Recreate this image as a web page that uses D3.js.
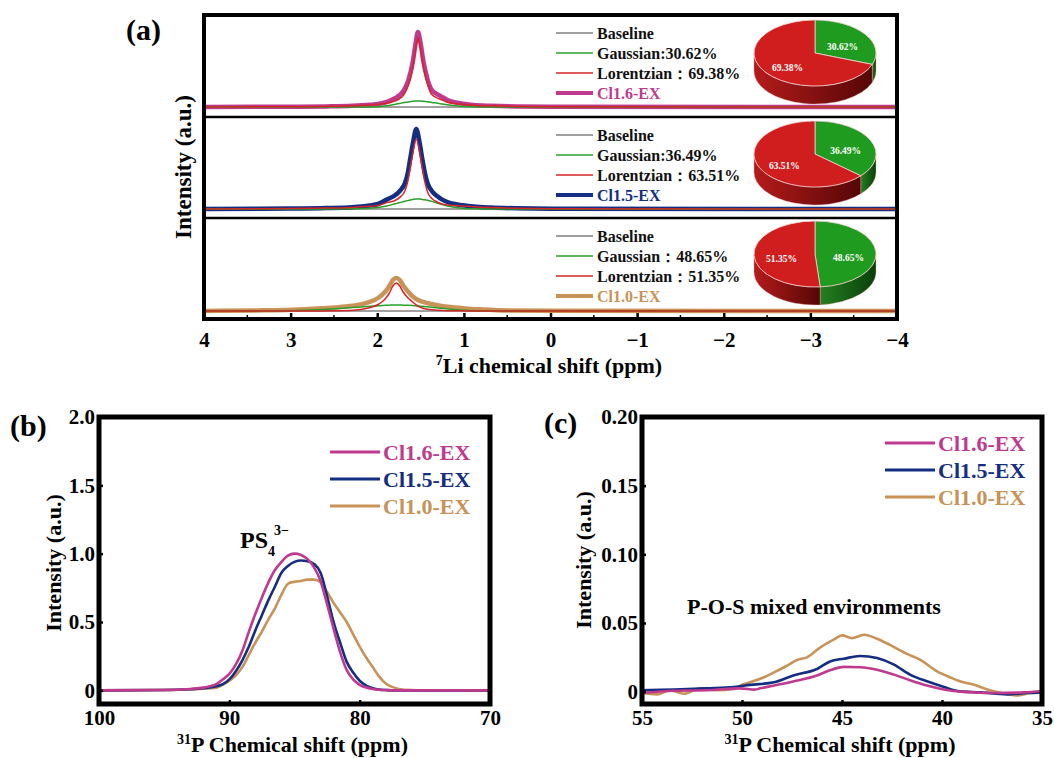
<!DOCTYPE html>
<html>
<head>
<meta charset="utf-8">
<style>
  body { margin: 0; background: #fff; }
</style>
</head>
<body>
<div id="container"></div>
<script src="https://cdn.jsdelivr.net/npm/d3@7"></script>
<script>
// ---------- panel (a): 7Li fits ----------
const liTicks = [4, 3, 2, 1, 0, -1, -2, -3, -4];
const liMinorTicks = [3.5, 2.5, 1.5, 0.5, -0.5, -1.5, -2.5, -3.5];
const samplesA = ["Cl1.6-EX", "Cl1.5-EX", "Cl1.0-EX"];
const gaussianPct = [30.62, 36.49, 48.65];
const lorentzianPct = [69.38, 63.51, 51.35];
const gaussianSep = [":", ":", "："];

const baselinePpm = [4, -4];
const baselineVal = [0, 0];

const ppmCl16 = [4, 2.99, 2.59, 2.29, 2.09, 1.99, 1.89, 1.79, 1.74, 1.69, 1.64, 1.59, 1.56, 1.53, 1.50, 1.47, 1.42, 1.37, 1.29, 1.25, 1.19, 1.09, 0.99, 0.89, 0.69, 0.39, -0.01, -4];
const totalCl16 = [0, 0.3, 0.6, 1.2, 2.2, 3, 5, 9, 12, 17, 27, 45, 62, 75, 64, 47, 28, 17, 12, 10, 7, 4.5, 3, 2, 1.2, 0.5, 0.2, 0];
const gaussCl16 = [0, 0, 0, 0, 0.1, 0.3, 1.2, 2.8, 3.6, 4.4, 5.1, 5.7, 5.9, 6, 5.9, 5.8, 5.3, 4.6, 3.6, 3, 2.3, 1.2, 0.5, 0.15, 0, 0, 0, 0];
const lorentzCl16 = [0, 0.3, 0.6, 1.2, 2.1, 2.7, 3.8, 6.2, 8.4, 12.6, 21.9, 39.3, 56.1, 69, 58.1, 41.2, 22.7, 12.4, 8.4, 7, 4.7, 3.3, 2.5, 1.85, 1.2, 0.5, 0.2, 0];

const ppmCl15 = [4, 2.99, 2.59, 2.29, 2.09, 1.99, 1.89, 1.79, 1.74, 1.68, 1.65, 1.62, 1.59, 1.55, 1.51, 1.48, 1.45, 1.42, 1.37, 1.31, 1.25, 1.19, 1.09, 0.99, 0.89, 0.69, 0.39, -0.01, -4];
const totalCl15 = [0, 0.4, 0.9, 1.8, 3.5, 5, 9.4, 14, 18, 26, 35, 50, 65, 80, 66, 50, 36, 26, 18, 13, 9.4, 7, 4.8, 3.4, 2.5, 1.5, 0.7, 0.3, 0];
const gaussCl15 = [0, 0, 0, 0.2, 0.8, 1.5, 3, 5.3, 6.4, 7.7, 8.4, 9.1, 9.6, 10, 9.9, 9.6, 9.2, 8.7, 7.6, 6, 4.4, 3, 1.4, 0.5, 0.15, 0, 0, 0, 0];
const lorentzCl15 = [0, 0.4, 0.9, 1.6, 2.7, 3.5, 6.4, 8.7, 11.6, 18.3, 26.6, 40.9, 55.4, 70, 56.1, 40.4, 26.8, 17.3, 10.4, 7, 5, 4, 3.4, 2.9, 2.35, 1.5, 0.7, 0.3, 0];

const ppmCl10 = [4, 3.39, 2.99, 2.69, 2.49, 2.29, 2.19, 2.08, 1.99, 1.94, 1.9, 1.86, 1.82, 1.78, 1.74, 1.7, 1.65, 1.59, 1.54, 1.48, 1.39, 1.29, 1.19, 0.99, 0.79, 0.49, -0.01, -4];
const totalCl10 = [0, 0.6, 1.3, 2.5, 3.6, 5.2, 6.6, 9.4, 13, 16.5, 20, 25, 31, 33, 31, 25.5, 20, 14.5, 11.5, 9.4, 7.2, 5.5, 4.2, 2.6, 1.6, 0.6, 0.2, 0];
const gaussCl10 = [0, 0, 0.3, 1.2, 2.2, 3.4, 4, 4.7, 5.2, 5.5, 5.7, 5.85, 5.95, 6, 5.95, 5.85, 5.7, 5.4, 5.1, 4.7, 3.9, 3, 2.1, 0.8, 0.2, 0, 0, 0];
const lorentzCl10 = [0, 0, 0, 0.1, 0.3, 0.8, 1.5, 3.5, 6.5, 9.5, 13, 18, 25, 28, 25, 19, 13.5, 9, 5.5, 3, 1.4, 0.7, 0.3, 0.1, 0, 0, 0, 0];

// ---------- panel (b): 31P, PS4 region ----------
const pTicksB = [100, 90, 80, 70];
const yTicksB = [0, 0.5, 1.0, 1.5, 2.0];
const ppmB = [100, 95, 93, 92, 91, 90.5, 90, 89.5, 89, 88.5, 88, 87.5, 87, 86.5, 86, 85.5, 85, 84.5, 84, 83.5, 83, 82.5, 82, 81.5, 81, 80.5, 80, 79.5, 79, 78.5, 78, 77.5, 77, 76, 75, 70];
const intCl16B = [0, 0.002, 0.01, 0.02, 0.045, 0.08, 0.12, 0.19, 0.29, 0.43, 0.56, 0.68, 0.79, 0.88, 0.94, 0.985, 1.0, 0.99, 0.96, 0.9, 0.8, 0.63, 0.45, 0.28, 0.15, 0.08, 0.04, 0.02, 0.01, 0.004, 0.002, 0, 0, 0, 0, 0];
const intCl15B = [0, 0.002, 0.008, 0.015, 0.03, 0.045, 0.08, 0.14, 0.22, 0.32, 0.44, 0.55, 0.66, 0.76, 0.86, 0.91, 0.94, 0.95, 0.945, 0.925, 0.86, 0.69, 0.5, 0.35, 0.21, 0.13, 0.07, 0.035, 0.015, 0.005, 0.002, 0, 0, 0, 0, 0];
const intCl10B = [0, 0.002, 0.008, 0.012, 0.02, 0.04, 0.07, 0.11, 0.17, 0.26, 0.35, 0.43, 0.52, 0.6, 0.7, 0.78, 0.795, 0.8, 0.81, 0.81, 0.79, 0.72, 0.64, 0.57, 0.5, 0.41, 0.32, 0.24, 0.17, 0.1, 0.05, 0.025, 0.01, 0.002, 0, -0.002];

// ---------- panel (c): 31P, P-O-S region ----------
const pTicksC = [55, 50, 45, 40, 35];
const yTicksC = [0, 0.05, 0.10, 0.15, 0.20];
const ppmCl16C = [55, 53.4, 51.75, 50.1, 49.35, 49.1, 48.4, 47.4, 46.25, 45.6, 44.9, 44.1, 43.25, 42.4, 41.6, 40.75, 39.9, 39.1, 37.4, 35.9, 35];
const intCl16C = [-0.001, 0.0007, 0.001, 0.0024, 0.0015, 0.0024, 0.0044, 0.0075, 0.0117, 0.0156, 0.018, 0.0178, 0.016, 0.0124, 0.0083, 0.0044, 0.0015, 0, -0.001, -0.0005, 0.0005];
const ppmCl15C = [55, 53.4, 51.75, 50.4, 49.6, 48.4, 47.4, 46.25, 45.6, 44.9, 44.1, 43.25, 42.4, 41.6, 40.75, 39.9, 39.1, 38.1, 36.75, 35.75, 35];
const intCl15C = [0.001, 0.0015, 0.0024, 0.0034, 0.0049, 0.0068, 0.012, 0.0165, 0.022, 0.024, 0.026, 0.0245, 0.0197, 0.0124, 0.0075, 0.0034, 0.0002, -0.0005, -0.002, -0.001, -0.0005];
const ppmCl10C = [55, 54.25, 53.6, 52.9, 52.1, 51.25, 50.4, 50.0, 49.6, 48.9, 48.4, 47.8, 47.25, 46.75, 46.1, 45.4, 45.0, 44.5, 43.9, 43.25, 42.6, 41.75, 41.1, 40.25, 39.6, 39.1, 38.4, 37.6, 36.75, 36.25, 35.6, 35.0];
const intCl10C = [-0.001, -0.002, 0.001, -0.0015, 0.0024, 0.001, 0.002, 0.005, 0.0068, 0.0105, 0.014, 0.0185, 0.023, 0.025, 0.032, 0.038, 0.041, 0.039, 0.0414, 0.0385, 0.034, 0.0275, 0.0233, 0.0148, 0.0105, 0.0075, 0.005, 0.001, -0.0017, -0.0027, -0.001, -0.0005];

const colors = { "Cl1.6-EX": "#bf3a8f", "Cl1.5-EX": "#132e82", "Cl1.0-EX": "#c99256" };
const green = "#2a9f2a", red = "#d42626", gray = "#808080";

const zip = (xs, ys) => xs.map((x, i) => [x, ys[i]]);

const svg = d3.select("#container").append("svg")
    .attr("width", 1054)
    .attr("height", 758)
    .style("font-family", '"Liberation Serif", "Times New Roman", serif')
    .attr("font-weight", "bold");

const defs = svg.append("defs");
function sideGradient(id, c0, c1) {
    const g = defs.append("linearGradient").attr("id", id)
        .attr("x1", 0).attr("x2", 1).attr("y1", 0).attr("y2", 0);
    g.append("stop").attr("offset", "0%").attr("stop-color", c0);
    g.append("stop").attr("offset", "100%").attr("stop-color", c1);
}
sideGradient("sideGreen", "#23801f", "#0a3f0a");
sideGradient("sideRed", "#b51b1b", "#560606");

// ================= panel (a) =================
const xA = d3.scaleLinear().domain([4, -4]).range([204, 897]);
const bandTop = [15, 117, 218];
const baseY = [107, 209, 311];

const seriesA = [
    { ppm: ppmCl16, total: totalCl16, g: gaussCl16, l: lorentzCl16 },
    { ppm: ppmCl15, total: totalCl15, g: gaussCl15, l: lorentzCl15 },
    { ppm: ppmCl10, total: totalCl10, g: gaussCl10, l: lorentzCl10 }
];

seriesA.forEach((s, i) => {
    const y = d3.scaleLinear().domain([0, 100]).range([baseY[i], baseY[i] - 100]);
    const line = d3.line().x(d => xA(d[0])).y(d => y(d[1])).curve(d3.curveMonotoneX);
    const g = svg.append("g");
    g.append("path").attr("d", line(zip(baselinePpm, baselineVal)))
        .attr("fill", "none").attr("stroke", gray).attr("stroke-width", 1.5);
    g.append("path").attr("d", line(zip(s.ppm, s.total)))
        .attr("fill", "none").attr("stroke", colors[samplesA[i]]).attr("stroke-width", 4.5)
        .attr("stroke-linejoin", "round");
    g.append("path").attr("d", line(zip(s.ppm, s.g)))
        .attr("fill", "none").attr("stroke", green).attr("stroke-width", 1.5);
    g.append("path").attr("d", line(zip(s.ppm, s.l)))
        .attr("fill", "none").attr("stroke", red).attr("stroke-width", 1.5);

    // legend
    const labels = [
        "Baseline",
        `Gaussian${gaussianSep[i]}${gaussianPct[i].toFixed(2)}%`,
        `Lorentzian：${lorentzianPct[i].toFixed(2)}%`,
        samplesA[i]
    ];
    const lcol = [gray, green, red, colors[samplesA[i]]];
    labels.forEach((t, k) => {
        const ly = bandTop[i] + 18 + 20 * k;
        svg.append("line").attr("x1", 556).attr("x2", 593).attr("y1", ly).attr("y2", ly)
            .attr("stroke", lcol[k]).attr("stroke-width", k === 3 ? 4 : 1.5);
        svg.append("text").attr("x", 597).attr("y", ly).attr("dy", "0.35em")
            .attr("font-size", 16).attr("fill", k === 3 ? lcol[k] : "#111").text(t);
    });

    drawPie(815, [53, 154, 254][i], [gaussianPct[i], lorentzianPct[i]]);
});

function drawPie(cx, cy, vals) {
    const rx = 61, ry = 33, depth = 18, k = ry / rx;
    const arcs = d3.pie().sort(null)(vals);
    const fills = ["#1f9b1f", "#d01e1e"];
    const sides = ["url(#sideGreen)", "url(#sideRed)"];
    const g = svg.append("g").attr("transform", `translate(${cx},${cy}) scale(1,${k})`);
    arcs.forEach((a, i) => {
        const s = Math.max(a.startAngle, Math.PI / 2);
        const e = Math.min(a.endAngle, 1.5 * Math.PI);
        if (e <= s) return;
        const p = d3.path();
        p.arc(0, 0, rx, s - Math.PI / 2, e - Math.PI / 2);
        p.arc(0, depth / k, rx, e - Math.PI / 2, s - Math.PI / 2, true);
        p.closePath();
        g.append("path").attr("d", p.toString()).attr("fill", sides[i])
            .attr("stroke", "#d9a0a0").attr("stroke-width", 0.4).attr("vector-effect", "non-scaling-stroke");
    });
    g.selectAll("path.top").data(arcs).join("path").attr("class", "top")
        .attr("d", d3.arc().innerRadius(0).outerRadius(rx))
        .attr("fill", (d, i) => fills[i])
        .attr("stroke", "#f4d2d2").attr("stroke-width", 0.8)
        .attr("vector-effect", "non-scaling-stroke");
    arcs.forEach((a, i) => {
        const m = (a.startAngle + a.endAngle) / 2;
        svg.append("text")
            .attr("x", cx + 0.55 * rx * Math.sin(m))
            .attr("y", cy - 0.55 * ry * Math.cos(m) + 4)
            .attr("dy", "0.35em").attr("text-anchor", "middle")
            .attr("fill", "#fff").attr("font-size", 9.5)
            .text(vals[i].toFixed(2) + "%");
    });
}

// frame & dividers
svg.append("rect").attr("x", 204).attr("y", 15).attr("width", 693).attr("height", 304)
    .attr("fill", "none").attr("stroke", "#000").attr("stroke-width", 4);
[117, 218].forEach(yy => svg.append("line").attr("x1", 204).attr("x2", 897)
    .attr("y1", yy).attr("y2", yy).attr("stroke", "#000").attr("stroke-width", 2.5));

// axis (a)
const fmtMinus = d => d < 0 ? "\u2212" + Math.abs(d) : String(d);
const axA = svg.append("g").attr("transform", "translate(0,319)")
    .call(d3.axisBottom(xA).tickValues(liTicks).tickSize(-6).tickPadding(13).tickFormat(fmtMinus));
axA.select(".domain").remove();
axA.attr("font-family", null).attr("font-size", 21);
axA.selectAll(".tick line").attr("stroke-width", 2.5);
svg.append("g").selectAll("line").data(liMinorTicks).join("line")
    .attr("x1", d => xA(d)).attr("x2", d => xA(d)).attr("y1", 319).attr("y2", 315)
    .attr("stroke", "#000").attr("stroke-width", 1.5);

const titleA = svg.append("text").attr("x", 549).attr("y", 373).attr("text-anchor", "middle").attr("font-size", 22);
titleA.append("tspan").attr("font-size", 14).attr("dy", -8).text("7");
titleA.append("tspan").attr("dy", 8).text("Li chemical shift (ppm)");

svg.append("text").attr("transform", "translate(191,167) rotate(-90)")
    .attr("text-anchor", "middle").attr("font-size", 23).text("Intensity (a.u.)");
svg.append("text").attr("x", 126).attr("y", 40).attr("font-size", 30).text("(a)");

// ================= panels (b) and (c) =================
function framedPanel(opt) {
    const x = d3.scaleLinear().domain(opt.xDomain).range(opt.xRange);
    const y = d3.scaleLinear().domain(opt.yDomain).range(opt.yRange);
    const [x0, x1] = opt.xRange, [yb, yt] = opt.yRange;
    const clipId = "clip" + opt.id;
    defs.append("clipPath").attr("id", clipId).append("rect")
        .attr("x", x0).attr("y", yt).attr("width", x1 - x0).attr("height", yb - yt);

    const line = d3.line().x(d => x(d[0])).y(d => y(d[1])).curve(d3.curveMonotoneX);
    const gc = svg.append("g").attr("clip-path", `url(#${clipId})`);
    opt.series.slice().reverse().forEach(s => {
        gc.append("path").attr("d", line(zip(s.ppm, s.val)))
            .attr("fill", "none").attr("stroke", colors[s.name]).attr("stroke-width", 2.6)
            .attr("stroke-linejoin", "round");
    });

    const ax = svg.append("g").attr("transform", `translate(0,${yb})`)
        .call(d3.axisBottom(x).tickValues(opt.xTicks).tickSize(-4).tickPadding(6).tickFormat(d3.format("d")));
    const ay = svg.append("g").attr("transform", `translate(${x0},0)`)
        .call(d3.axisLeft(y).tickValues(opt.yTicks).tickSize(-4).tickPadding(4).tickFormat(opt.yFmt));
    [ax, ay].forEach(a => {
        a.select(".domain").remove();
        a.attr("font-family", null).attr("font-size", 21);
        a.selectAll(".tick line").attr("stroke-width", 2.5);
    });

    svg.append("rect").attr("x", x0).attr("y", yt).attr("width", x1 - x0).attr("height", yb - yt)
        .attr("fill", "none").attr("stroke", "#000").attr("stroke-width", 5);

    // legend
    opt.series.forEach((s, k) => {
        const ly = opt.legend.y + 27 * k;
        svg.append("line").attr("x1", opt.legend.x).attr("x2", opt.legend.x + 50)
            .attr("y1", ly).attr("y2", ly).attr("stroke", colors[s.name]).attr("stroke-width", 3);
        svg.append("text").attr("x", opt.legend.x + 53).attr("y", ly).attr("dy", "0.35em")
            .attr("font-size", 22).attr("fill", colors[s.name]).text(s.name);
    });

    const xt = svg.append("text").attr("x", (x0 + x1) / 2 - 2).attr("y", 752)
        .attr("text-anchor", "middle").attr("font-size", 22);
    xt.append("tspan").attr("font-size", 14).attr("dy", -8).text("31");
    xt.append("tspan").attr("dy", 8).text("P Chemical shift (ppm)");

    svg.append("text").attr("transform", `translate(${opt.yTitleX},${opt.yTitleY}) rotate(-90)`)
        .attr("text-anchor", "middle").attr("font-size", 22).text("Intensity (a.u.)");
    svg.append("text").attr("x", opt.tag.x).attr("y", opt.tag.y).attr("font-size", 30).text(opt.tag.t);
    return { x, y };
}

framedPanel({
    id: "b",
    xDomain: [100, 70], xRange: [99, 490],
    yDomain: [-0.1, 2.0], yRange: [704, 417],
    xTicks: pTicksB, yTicks: yTicksB,
    yFmt: d => d === 0 ? "0" : d3.format(".1f")(d),
    series: [
        { name: "Cl1.6-EX", ppm: ppmB, val: intCl16B },
        { name: "Cl1.5-EX", ppm: ppmB, val: intCl15B },
        { name: "Cl1.0-EX", ppm: ppmB, val: intCl10B }
    ],
    legend: { x: 330, y: 452 },
    yTitleX: 61, yTitleY: 563,
    tag: { x: 10, y: 436, t: "(b)" }
});

svg.append("text").attr("x", 240).attr("y", 548).attr("font-size", 24).text("PS");
svg.append("text").attr("x", 268).attr("y", 556).attr("font-size", 14).text("4");
svg.append("text").attr("x", 274).attr("y", 535).attr("font-size", 14).text("3\u2212");

framedPanel({
    id: "c",
    xDomain: [55, 35], xRange: [642, 1042],
    yDomain: [-0.009, 0.2], yRange: [704, 417],
    xTicks: pTicksC, yTicks: yTicksC,
    yFmt: d => d === 0 ? "0" : d3.format(".2f")(d),
    series: [
        { name: "Cl1.6-EX", ppm: ppmCl16C, val: intCl16C },
        { name: "Cl1.5-EX", ppm: ppmCl15C, val: intCl15C },
        { name: "Cl1.0-EX", ppm: ppmCl10C, val: intCl10C }
    ],
    legend: { x: 885, y: 443 },
    yTitleX: 591, yTitleY: 560,
    tag: { x: 544, y: 433, t: "(c)" }
});

svg.append("text").attr("x", 687).attr("y", 614).attr("font-size", 22).text("P-O-S mixed environments");
</script>
</body>
</html>
